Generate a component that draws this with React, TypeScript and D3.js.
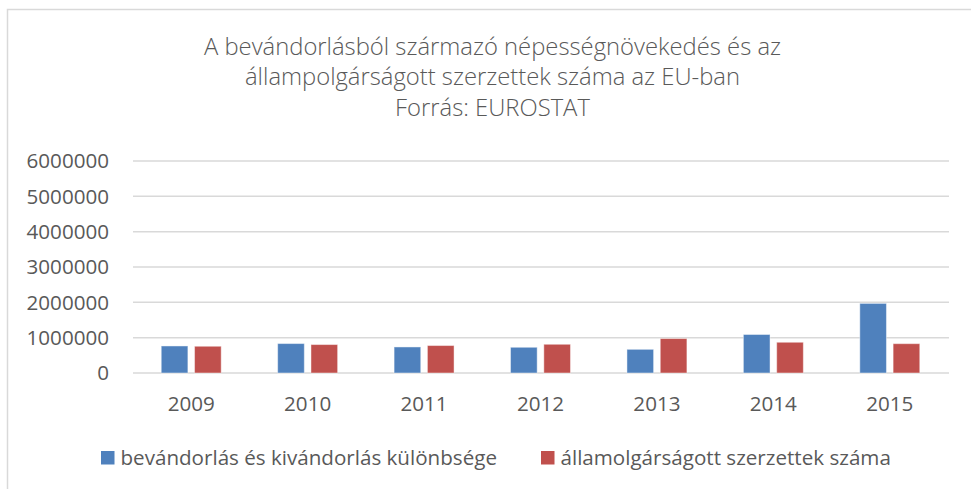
import React from "react";
import * as d3 from "d3";

const years = ["2009", "2010", "2011", "2012", "2013", "2014", "2015"];
const migrationBalance = [765000, 833000, 737000, 728000, 670000, 1090000, 1970000];
const citizenshipAcquired = [757000, 805000, 777000, 813000, 975000, 870000, 830000];
const yTicks = [0, 1000000, 2000000, 3000000, 4000000, 5000000, 6000000];
const seriesNames = [
  "bevándorlás és kivándorlás különbsége",
  "államolgárságott szerzettek száma",
];
const titleLines = [
  "A bevándorlásból származó népességnövekedés és az",
  "állampolgárságott szerzettek száma az EU-ban",
  "Forrás: EUROSTAT",
];

const W = 971;
const H = 489;
const colors = ["#4F81BD", "#C0504D"];
const textColor = "#595959";
const font = "'Open Sans', sans-serif";

export default function App() {
  const x = d3
    .scaleBand<string>()
    .domain(years)
    .range([133, 948])
    .paddingInner(0.485)
    .paddingOuter(0.2425);
  const inner = d3
    .scaleBand<string>()
    .domain(["a", "b"])
    .range([0, x.bandwidth()])
    .paddingInner(0.2);
  const y = d3.scaleLinear().domain([0, 6000000]).range([373, 161]);
  const series = [migrationBalance, citizenshipAcquired];
  const keys = ["a", "b"];

  return (
    <svg
      width={W}
      height={H}
      style={{ position: "absolute", left: 0, top: 0, background: "#fff" }}
      fontFamily={font}
    >
      <rect x={0} y={0} width={W} height={H} fill="#fff" />
      <rect x={7.5} y={9.5} width={W + 20} height={H + 20} fill="#fff" stroke="#D9D9D9" strokeWidth={1.5} />
      {titleLines.map((t, i) => (
        <text
          key={i}
          x={492.5}
          y={54.5 + i * 30.5}
          textAnchor="middle"
          fontSize={23.8}
          fontWeight={300}
          fill={textColor}
        >
          {t}
        </text>
      ))}
      {yTicks.map((v) => (
        <g key={v}>
          <line x1={133} x2={949} y1={y(v)} y2={y(v)} stroke="#D9D9D9" strokeWidth={1.5} />
          <text
            x={109}
            y={y(v)}
            dy="0.36em"
            textAnchor="end"
            fontSize={20.6}
            fill={textColor}
          >
            {v}
          </text>
        </g>
      ))}
      {years.map((yr, i) => (
        <g key={yr} transform={`translate(${x(yr)},0)`}>
          {series.map((s, j) => (
            <rect
              key={j}
              x={inner(keys[j])}
              y={y(s[i])}
              width={inner.bandwidth()}
              height={y(0) - y(s[i])}
              fill={colors[j]}
              stroke="#fff"
              strokeOpacity={0.45}
              strokeWidth={1}
            />
          ))}
          <text
            x={x.bandwidth() / 2}
            y={403.5}
            dy="0.36em"
            textAnchor="middle"
            fontSize={20.6}
            fill={textColor}
          >
            {yr}
          </text>
        </g>
      ))}
      {[101, 541].map((lx, j) => (
        <g key={j}>
          <rect x={lx} y={451} width={13.5} height={13.5} fill={colors[j]} />
          <text x={lx + 19.5} y={457.5} dy="0.36em" fontSize={20.6} fill={textColor}>
            {seriesNames[j]}
          </text>
        </g>
      ))}
    </svg>
  );
}
